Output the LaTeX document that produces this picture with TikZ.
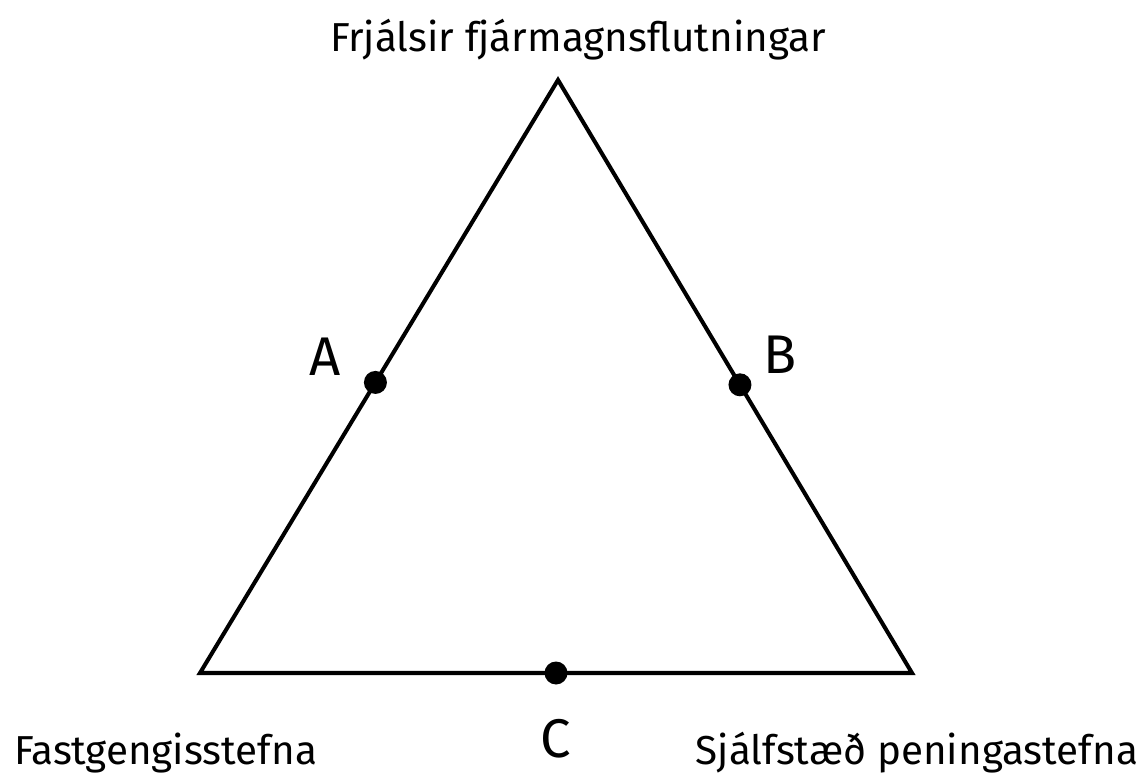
\documentclass[tikz,border=0pt]{standalone}
\usepackage{fontspec}
\setmainfont{Fira Sans}
\usetikzlibrary{calc}

\begin{document}
\begin{tikzpicture}[line width=2.3pt,font=\fontsize{23}{26}\selectfont]
\useasboundingbox (0,0) rectangle (22.86,15.58);
\coordinate (T) at (11.16,13.98); \coordinate (L) at (4,2.12); \coordinate (R) at (18.24,2.12);
\coordinate (A) at ($(L)!.49!(T)$); \coordinate (B) at ($(R)!.486!(T)$); \coordinate (C) at ($(L)!.5!(R)$);
\draw[line join=miter] (T)--(L)--(R)--cycle;
\foreach \p/\dx/\dy in {A/-1/.52,B/.8/.6,C/0/-1.32} \fill (\p) circle (.23) node[font=\fontsize{31}{34}\selectfont] (l\p) at ($(\p)+(\dx,\dy)$) {\p};
\node[anchor=base] (top) at (11.56,14.54) {Frjálsir fjármagnsflutningar};
\node[anchor=base west,inner sep=0pt] (fast) at (.24,.3) {Fastgengisstefna};
\node[anchor=base east,inner sep=0pt] (sjalf) at (22.8,.3) {Sjálfstæð peningastefna};
\end{tikzpicture}
\end{document}
